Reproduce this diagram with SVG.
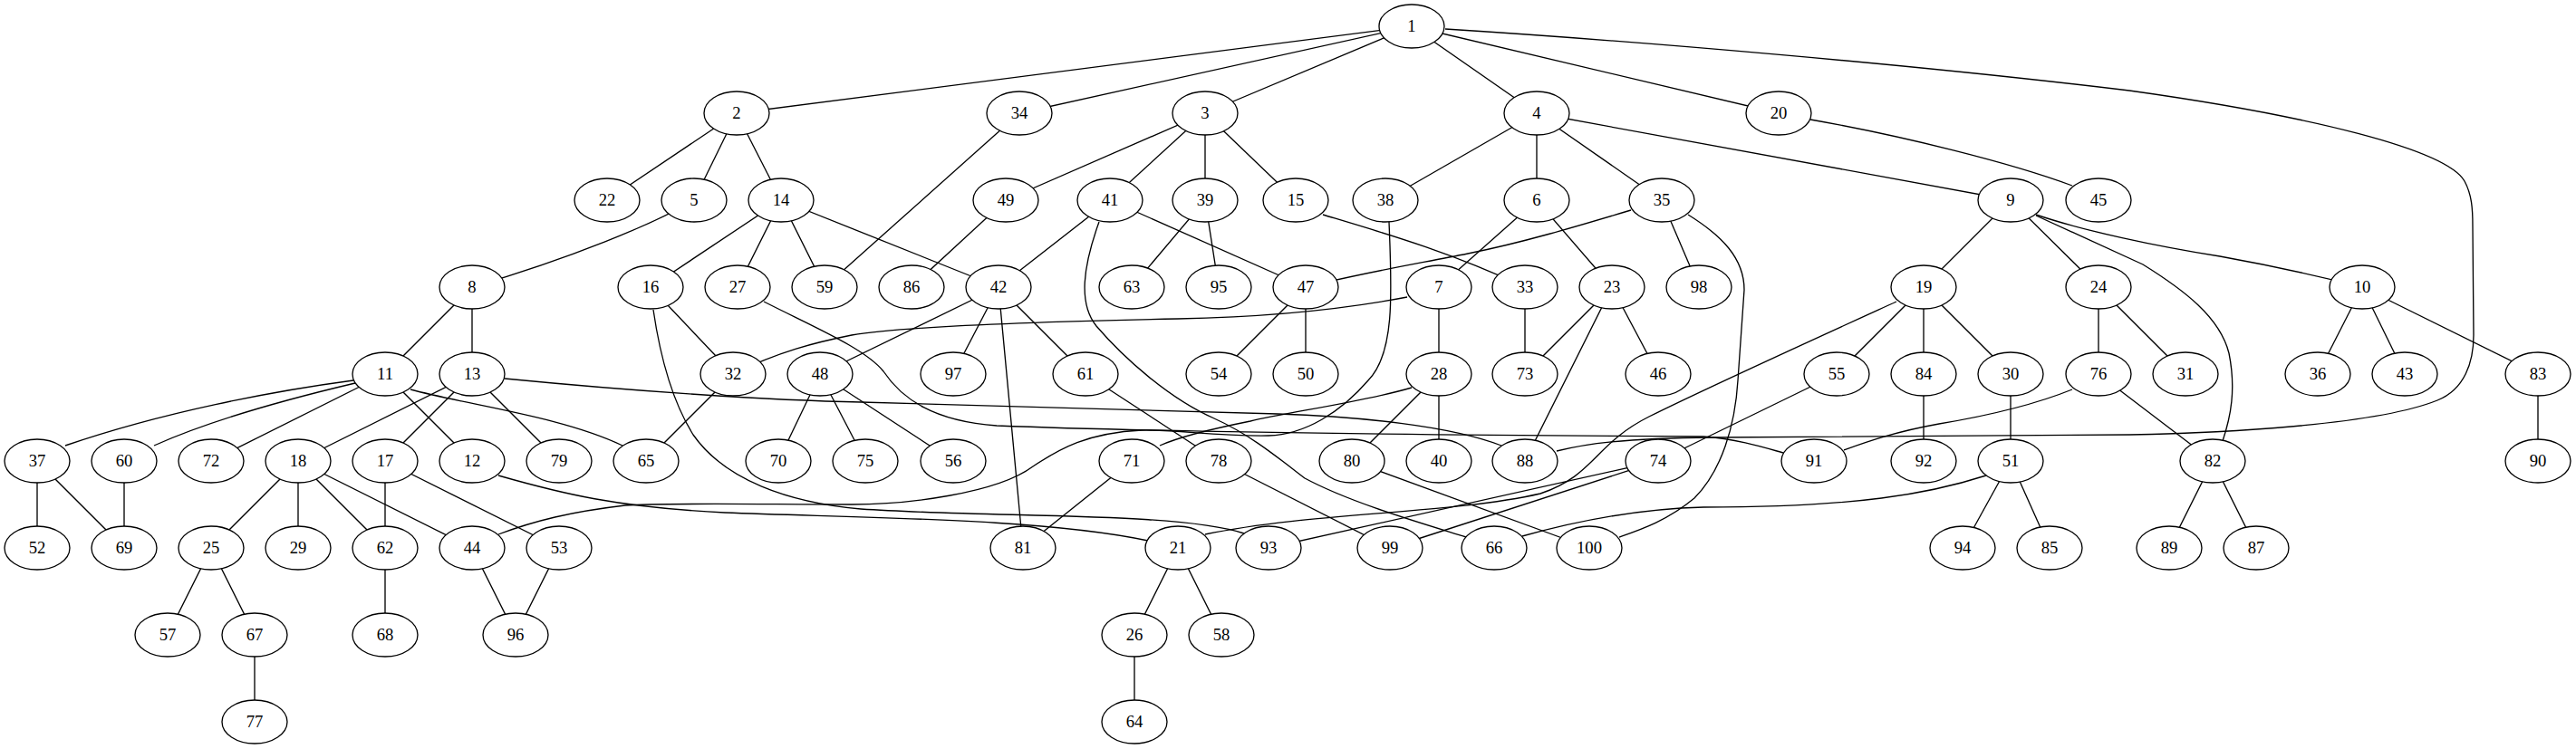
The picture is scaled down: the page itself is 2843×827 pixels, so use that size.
<svg xmlns="http://www.w3.org/2000/svg" width="2843" height="827" viewBox="0 0 2843 827">
<style>
.e path{fill:none;stroke:#000;stroke-width:1.33}
.n ellipse{fill:#fff;stroke:#000;stroke-width:1.33}
.n text{font-family:"Liberation Serif","Times New Roman",serif;font-size:18.67px;text-anchor:middle;fill:#000}
</style>
<rect width="2843" height="827" fill="#fff"/>
<g id="edges" class="e">
<path d="M1558,29 L813,125"/>
<path d="M1558,29 L1125,125"/>
<path d="M1558,29 L1330,125"/>
<path d="M1558,29 L1696,125"/>
<path d="M1558,29 L1963,125"/>
<path d="M1595,32 C1800,45 2100,70 2350,100 C2550,128 2700,165 2720,200 C2728,215 2729,230 2729,250 L2730,370 C2730,400 2720,430 2690,442 C2620,470 2450,478 2350,480 L1890,483 C1790,484 1750,490 1718,498"/>
<path d="M813,125 L670,221"/>
<path d="M813,125 L766,221"/>
<path d="M813,125 L862,221"/>
<path d="M1330,125 L1110,221"/>
<path d="M1330,125 L1225,221"/>
<path d="M1330,125 L1330,221"/>
<path d="M1330,125 L1430,221"/>
<path d="M1696,125 L1529,221"/>
<path d="M1696,125 L1696,221"/>
<path d="M1696,125 L1834,221"/>
<path d="M1696,125 L2219,221"/>
<path d="M1998,132 C2100,150 2220,180 2287,205"/>
<path d="M1125,125 L910,317"/>
<path d="M766,221 C720,248 630,285 521,317"/>
<path d="M862,221 L718,317"/>
<path d="M862,221 L814,317"/>
<path d="M862,221 L910,317"/>
<path d="M862,221 L1102,317"/>
<path d="M1110,221 L1006,317"/>
<path d="M1225,221 L1102,317"/>
<path d="M1225,221 L1441,317"/>
<path d="M1213,245 C1195,295 1190,335 1210,360 C1240,395 1290,440 1340,462 C1380,480 1410,505 1440,528 C1490,555 1570,578 1618,593"/>
<path d="M1330,221 L1249,317"/>
<path d="M1330,221 L1345,317"/>
<path d="M1460,237 C1530,258 1600,278 1683,317"/>
<path d="M1533,245 C1536,320 1540,390 1510,420 C1480,455 1440,480 1400,481 C1340,482 1300,474 1260,475 C1200,478 1170,495 1140,515 C1100,545 1000,557 940,557 C850,557 730,555 690,558 C630,565 590,575 550,590"/>
<path d="M1696,221 L1588,317"/>
<path d="M1696,221 L1779,317"/>
<path d="M1800,232 C1740,250 1680,268 1620,280 C1560,292 1510,300 1441,317"/>
<path d="M1834,221 L1875,317"/>
<path d="M1863,237 C1900,260 1925,285 1925,320 L1918,420 C1915,470 1900,520 1870,550 C1840,575 1810,585 1787,593"/>
<path d="M2219,221 L2123,317"/>
<path d="M2219,221 L2316,317"/>
<path d="M2247,237 C2300,255 2380,272 2450,283 C2500,292 2540,300 2607,317"/>
<path d="M2247,238 L2365,292 C2410,320 2450,350 2460,390 C2468,430 2462,460 2453,487"/>
<path d="M521,317 L425,413"/>
<path d="M521,317 L521,413"/>
<path d="M718,317 L809,413"/>
<path d="M721,342 C728,390 740,440 765,480 C800,530 870,555 950,562 C1100,572 1300,565 1373,589"/>
<path d="M843,333 C900,362 955,385 975,410 C995,440 1030,465 1100,470 C1300,478 1700,481 1880,482 C1920,485 1950,495 1968,500"/>
<path d="M1102,317 L905,413"/>
<path d="M1102,317 L1052,413"/>
<path d="M1102,317 L1129,605"/>
<path d="M1102,317 L1198,413"/>
<path d="M1441,317 L1345,413"/>
<path d="M1441,317 L1441,413"/>
<path d="M1553,328 C1480,342 1400,350 1300,352 C1150,355 1000,360 940,370 C900,378 860,388 809,413"/>
<path d="M1588,317 L1588,413"/>
<path d="M1683,317 L1683,413"/>
<path d="M1779,317 L1683,413"/>
<path d="M1779,317 L1683,509"/>
<path d="M1779,317 L1830,413"/>
<path d="M2123,317 L2027,413"/>
<path d="M2123,317 L2123,413"/>
<path d="M2123,317 L2219,413"/>
<path d="M2093,333 C1990,380 1880,430 1820,460 C1760,490 1760,525 1700,545 C1600,568 1450,565 1330,590"/>
<path d="M2316,317 L2316,413"/>
<path d="M2316,317 L2412,413"/>
<path d="M2607,317 L2558,413"/>
<path d="M2607,317 L2654,413"/>
<path d="M2607,317 L2801,413"/>
<path d="M390,420 C300,432 180,455 72,492"/>
<path d="M392,423 C320,440 230,465 170,492"/>
<path d="M425,413 L233,509"/>
<path d="M425,413 L521,509"/>
<path d="M453,430 C520,448 620,460 687,492"/>
<path d="M521,413 L329,509"/>
<path d="M521,413 L425,509"/>
<path d="M521,413 L617,509"/>
<path d="M557,418 C700,432 850,442 950,444 L1410,457 C1500,460 1600,470 1657,492"/>
<path d="M809,413 L713,509"/>
<path d="M905,413 L859,509"/>
<path d="M905,413 L955,509"/>
<path d="M905,413 L1052,509"/>
<path d="M1198,413 L1345,509"/>
<path d="M1558,428 C1500,445 1420,455 1380,465 C1330,475 1300,483 1280,492"/>
<path d="M1588,413 L1492,509"/>
<path d="M1588,413 L1588,509"/>
<path d="M2027,413 L1830,509"/>
<path d="M2123,413 L2123,509"/>
<path d="M2219,413 L2219,509"/>
<path d="M2287,430 C2250,445 2200,458 2140,468 C2090,477 2060,488 2035,497"/>
<path d="M2316,413 L2442,509"/>
<path d="M2801,413 L2801,509"/>
<path d="M41,509 L41,605"/>
<path d="M41,509 L137,605"/>
<path d="M137,509 L137,605"/>
<path d="M329,509 L233,605"/>
<path d="M329,509 L329,605"/>
<path d="M329,509 L425,605"/>
<path d="M329,509 L521,605"/>
<path d="M425,509 L425,605"/>
<path d="M425,509 L617,605"/>
<path d="M550,525 C620,545 680,560 800,566 C950,572 1150,572 1267,597"/>
<path d="M1249,509 L1129,605"/>
<path d="M1345,509 L1534,605"/>
<path d="M1492,509 L1754,605"/>
<path d="M1830,509 L1400,605"/>
<path d="M1830,509 L1534,605"/>
<path d="M2192,525 C2130,545 2050,560 1880,560 C1800,562 1730,578 1680,592"/>
<path d="M2219,509 L2166,605"/>
<path d="M2219,509 L2262,605"/>
<path d="M2442,509 L2394,605"/>
<path d="M2442,509 L2490,605"/>
<path d="M233,605 L185,701"/>
<path d="M233,605 L281,701"/>
<path d="M425,605 L425,701"/>
<path d="M521,605 L569,701"/>
<path d="M617,605 L569,701"/>
<path d="M1300,605 L1252,701"/>
<path d="M1300,605 L1348,701"/>
<path d="M1252,701 L1252,797"/>
<path d="M281,701 L281,797"/>
</g>
<g id="node1" class="n"><ellipse cx="1558" cy="29" rx="36" ry="24"/><text x="1558" y="35">1</text></g>
<g id="node2" class="n"><ellipse cx="813" cy="125" rx="36" ry="24"/><text x="813" y="131">2</text></g>
<g id="node34" class="n"><ellipse cx="1125" cy="125" rx="36" ry="24"/><text x="1125" y="131">34</text></g>
<g id="node3" class="n"><ellipse cx="1330" cy="125" rx="36" ry="24"/><text x="1330" y="131">3</text></g>
<g id="node4" class="n"><ellipse cx="1696" cy="125" rx="36" ry="24"/><text x="1696" y="131">4</text></g>
<g id="node20" class="n"><ellipse cx="1963" cy="125" rx="36" ry="24"/><text x="1963" y="131">20</text></g>
<g id="node22" class="n"><ellipse cx="670" cy="221" rx="36" ry="24"/><text x="670" y="227">22</text></g>
<g id="node5" class="n"><ellipse cx="766" cy="221" rx="36" ry="24"/><text x="766" y="227">5</text></g>
<g id="node14" class="n"><ellipse cx="862" cy="221" rx="36" ry="24"/><text x="862" y="227">14</text></g>
<g id="node49" class="n"><ellipse cx="1110" cy="221" rx="36" ry="24"/><text x="1110" y="227">49</text></g>
<g id="node41" class="n"><ellipse cx="1225" cy="221" rx="36" ry="24"/><text x="1225" y="227">41</text></g>
<g id="node39" class="n"><ellipse cx="1330" cy="221" rx="36" ry="24"/><text x="1330" y="227">39</text></g>
<g id="node15" class="n"><ellipse cx="1430" cy="221" rx="36" ry="24"/><text x="1430" y="227">15</text></g>
<g id="node38" class="n"><ellipse cx="1529" cy="221" rx="36" ry="24"/><text x="1529" y="227">38</text></g>
<g id="node6" class="n"><ellipse cx="1696" cy="221" rx="36" ry="24"/><text x="1696" y="227">6</text></g>
<g id="node35" class="n"><ellipse cx="1834" cy="221" rx="36" ry="24"/><text x="1834" y="227">35</text></g>
<g id="node9" class="n"><ellipse cx="2219" cy="221" rx="36" ry="24"/><text x="2219" y="227">9</text></g>
<g id="node45" class="n"><ellipse cx="2316" cy="221" rx="36" ry="24"/><text x="2316" y="227">45</text></g>
<g id="node8" class="n"><ellipse cx="521" cy="317" rx="36" ry="24"/><text x="521" y="323">8</text></g>
<g id="node16" class="n"><ellipse cx="718" cy="317" rx="36" ry="24"/><text x="718" y="323">16</text></g>
<g id="node27" class="n"><ellipse cx="814" cy="317" rx="36" ry="24"/><text x="814" y="323">27</text></g>
<g id="node59" class="n"><ellipse cx="910" cy="317" rx="36" ry="24"/><text x="910" y="323">59</text></g>
<g id="node86" class="n"><ellipse cx="1006" cy="317" rx="36" ry="24"/><text x="1006" y="323">86</text></g>
<g id="node42" class="n"><ellipse cx="1102" cy="317" rx="36" ry="24"/><text x="1102" y="323">42</text></g>
<g id="node63" class="n"><ellipse cx="1249" cy="317" rx="36" ry="24"/><text x="1249" y="323">63</text></g>
<g id="node95" class="n"><ellipse cx="1345" cy="317" rx="36" ry="24"/><text x="1345" y="323">95</text></g>
<g id="node47" class="n"><ellipse cx="1441" cy="317" rx="36" ry="24"/><text x="1441" y="323">47</text></g>
<g id="node7" class="n"><ellipse cx="1588" cy="317" rx="36" ry="24"/><text x="1588" y="323">7</text></g>
<g id="node33" class="n"><ellipse cx="1683" cy="317" rx="36" ry="24"/><text x="1683" y="323">33</text></g>
<g id="node23" class="n"><ellipse cx="1779" cy="317" rx="36" ry="24"/><text x="1779" y="323">23</text></g>
<g id="node98" class="n"><ellipse cx="1875" cy="317" rx="36" ry="24"/><text x="1875" y="323">98</text></g>
<g id="node19" class="n"><ellipse cx="2123" cy="317" rx="36" ry="24"/><text x="2123" y="323">19</text></g>
<g id="node24" class="n"><ellipse cx="2316" cy="317" rx="36" ry="24"/><text x="2316" y="323">24</text></g>
<g id="node10" class="n"><ellipse cx="2607" cy="317" rx="36" ry="24"/><text x="2607" y="323">10</text></g>
<g id="node11" class="n"><ellipse cx="425" cy="413" rx="36" ry="24"/><text x="425" y="419">11</text></g>
<g id="node13" class="n"><ellipse cx="521" cy="413" rx="36" ry="24"/><text x="521" y="419">13</text></g>
<g id="node32" class="n"><ellipse cx="809" cy="413" rx="36" ry="24"/><text x="809" y="419">32</text></g>
<g id="node48" class="n"><ellipse cx="905" cy="413" rx="36" ry="24"/><text x="905" y="419">48</text></g>
<g id="node97" class="n"><ellipse cx="1052" cy="413" rx="36" ry="24"/><text x="1052" y="419">97</text></g>
<g id="node61" class="n"><ellipse cx="1198" cy="413" rx="36" ry="24"/><text x="1198" y="419">61</text></g>
<g id="node54" class="n"><ellipse cx="1345" cy="413" rx="36" ry="24"/><text x="1345" y="419">54</text></g>
<g id="node50" class="n"><ellipse cx="1441" cy="413" rx="36" ry="24"/><text x="1441" y="419">50</text></g>
<g id="node28" class="n"><ellipse cx="1588" cy="413" rx="36" ry="24"/><text x="1588" y="419">28</text></g>
<g id="node73" class="n"><ellipse cx="1683" cy="413" rx="36" ry="24"/><text x="1683" y="419">73</text></g>
<g id="node46" class="n"><ellipse cx="1830" cy="413" rx="36" ry="24"/><text x="1830" y="419">46</text></g>
<g id="node55" class="n"><ellipse cx="2027" cy="413" rx="36" ry="24"/><text x="2027" y="419">55</text></g>
<g id="node84" class="n"><ellipse cx="2123" cy="413" rx="36" ry="24"/><text x="2123" y="419">84</text></g>
<g id="node30" class="n"><ellipse cx="2219" cy="413" rx="36" ry="24"/><text x="2219" y="419">30</text></g>
<g id="node76" class="n"><ellipse cx="2316" cy="413" rx="36" ry="24"/><text x="2316" y="419">76</text></g>
<g id="node31" class="n"><ellipse cx="2412" cy="413" rx="36" ry="24"/><text x="2412" y="419">31</text></g>
<g id="node36" class="n"><ellipse cx="2558" cy="413" rx="36" ry="24"/><text x="2558" y="419">36</text></g>
<g id="node43" class="n"><ellipse cx="2654" cy="413" rx="36" ry="24"/><text x="2654" y="419">43</text></g>
<g id="node83" class="n"><ellipse cx="2801" cy="413" rx="36" ry="24"/><text x="2801" y="419">83</text></g>
<g id="node37" class="n"><ellipse cx="41" cy="509" rx="36" ry="24"/><text x="41" y="515">37</text></g>
<g id="node60" class="n"><ellipse cx="137" cy="509" rx="36" ry="24"/><text x="137" y="515">60</text></g>
<g id="node72" class="n"><ellipse cx="233" cy="509" rx="36" ry="24"/><text x="233" y="515">72</text></g>
<g id="node18" class="n"><ellipse cx="329" cy="509" rx="36" ry="24"/><text x="329" y="515">18</text></g>
<g id="node17" class="n"><ellipse cx="425" cy="509" rx="36" ry="24"/><text x="425" y="515">17</text></g>
<g id="node12" class="n"><ellipse cx="521" cy="509" rx="36" ry="24"/><text x="521" y="515">12</text></g>
<g id="node79" class="n"><ellipse cx="617" cy="509" rx="36" ry="24"/><text x="617" y="515">79</text></g>
<g id="node65" class="n"><ellipse cx="713" cy="509" rx="36" ry="24"/><text x="713" y="515">65</text></g>
<g id="node70" class="n"><ellipse cx="859" cy="509" rx="36" ry="24"/><text x="859" y="515">70</text></g>
<g id="node75" class="n"><ellipse cx="955" cy="509" rx="36" ry="24"/><text x="955" y="515">75</text></g>
<g id="node56" class="n"><ellipse cx="1052" cy="509" rx="36" ry="24"/><text x="1052" y="515">56</text></g>
<g id="node71" class="n"><ellipse cx="1249" cy="509" rx="36" ry="24"/><text x="1249" y="515">71</text></g>
<g id="node78" class="n"><ellipse cx="1345" cy="509" rx="36" ry="24"/><text x="1345" y="515">78</text></g>
<g id="node80" class="n"><ellipse cx="1492" cy="509" rx="36" ry="24"/><text x="1492" y="515">80</text></g>
<g id="node40" class="n"><ellipse cx="1588" cy="509" rx="36" ry="24"/><text x="1588" y="515">40</text></g>
<g id="node88" class="n"><ellipse cx="1683" cy="509" rx="36" ry="24"/><text x="1683" y="515">88</text></g>
<g id="node74" class="n"><ellipse cx="1830" cy="509" rx="36" ry="24"/><text x="1830" y="515">74</text></g>
<g id="node91" class="n"><ellipse cx="2002" cy="509" rx="36" ry="24"/><text x="2002" y="515">91</text></g>
<g id="node92" class="n"><ellipse cx="2123" cy="509" rx="36" ry="24"/><text x="2123" y="515">92</text></g>
<g id="node51" class="n"><ellipse cx="2219" cy="509" rx="36" ry="24"/><text x="2219" y="515">51</text></g>
<g id="node82" class="n"><ellipse cx="2442" cy="509" rx="36" ry="24"/><text x="2442" y="515">82</text></g>
<g id="node90" class="n"><ellipse cx="2801" cy="509" rx="36" ry="24"/><text x="2801" y="515">90</text></g>
<g id="node52" class="n"><ellipse cx="41" cy="605" rx="36" ry="24"/><text x="41" y="611">52</text></g>
<g id="node69" class="n"><ellipse cx="137" cy="605" rx="36" ry="24"/><text x="137" y="611">69</text></g>
<g id="node25" class="n"><ellipse cx="233" cy="605" rx="36" ry="24"/><text x="233" y="611">25</text></g>
<g id="node29" class="n"><ellipse cx="329" cy="605" rx="36" ry="24"/><text x="329" y="611">29</text></g>
<g id="node62" class="n"><ellipse cx="425" cy="605" rx="36" ry="24"/><text x="425" y="611">62</text></g>
<g id="node44" class="n"><ellipse cx="521" cy="605" rx="36" ry="24"/><text x="521" y="611">44</text></g>
<g id="node53" class="n"><ellipse cx="617" cy="605" rx="36" ry="24"/><text x="617" y="611">53</text></g>
<g id="node81" class="n"><ellipse cx="1129" cy="605" rx="36" ry="24"/><text x="1129" y="611">81</text></g>
<g id="node21" class="n"><ellipse cx="1300" cy="605" rx="36" ry="24"/><text x="1300" y="611">21</text></g>
<g id="node93" class="n"><ellipse cx="1400" cy="605" rx="36" ry="24"/><text x="1400" y="611">93</text></g>
<g id="node99" class="n"><ellipse cx="1534" cy="605" rx="36" ry="24"/><text x="1534" y="611">99</text></g>
<g id="node66" class="n"><ellipse cx="1649" cy="605" rx="36" ry="24"/><text x="1649" y="611">66</text></g>
<g id="node100" class="n"><ellipse cx="1754" cy="605" rx="36" ry="24"/><text x="1754" y="611">100</text></g>
<g id="node94" class="n"><ellipse cx="2166" cy="605" rx="36" ry="24"/><text x="2166" y="611">94</text></g>
<g id="node85" class="n"><ellipse cx="2262" cy="605" rx="36" ry="24"/><text x="2262" y="611">85</text></g>
<g id="node89" class="n"><ellipse cx="2394" cy="605" rx="36" ry="24"/><text x="2394" y="611">89</text></g>
<g id="node87" class="n"><ellipse cx="2490" cy="605" rx="36" ry="24"/><text x="2490" y="611">87</text></g>
<g id="node57" class="n"><ellipse cx="185" cy="701" rx="36" ry="24"/><text x="185" y="707">57</text></g>
<g id="node67" class="n"><ellipse cx="281" cy="701" rx="36" ry="24"/><text x="281" y="707">67</text></g>
<g id="node68" class="n"><ellipse cx="425" cy="701" rx="36" ry="24"/><text x="425" y="707">68</text></g>
<g id="node96" class="n"><ellipse cx="569" cy="701" rx="36" ry="24"/><text x="569" y="707">96</text></g>
<g id="node26" class="n"><ellipse cx="1252" cy="701" rx="36" ry="24"/><text x="1252" y="707">26</text></g>
<g id="node58" class="n"><ellipse cx="1348" cy="701" rx="36" ry="24"/><text x="1348" y="707">58</text></g>
<g id="node77" class="n"><ellipse cx="281" cy="797" rx="36" ry="24"/><text x="281" y="803">77</text></g>
<g id="node64" class="n"><ellipse cx="1252" cy="797" rx="36" ry="24"/><text x="1252" y="803">64</text></g>
</svg>
